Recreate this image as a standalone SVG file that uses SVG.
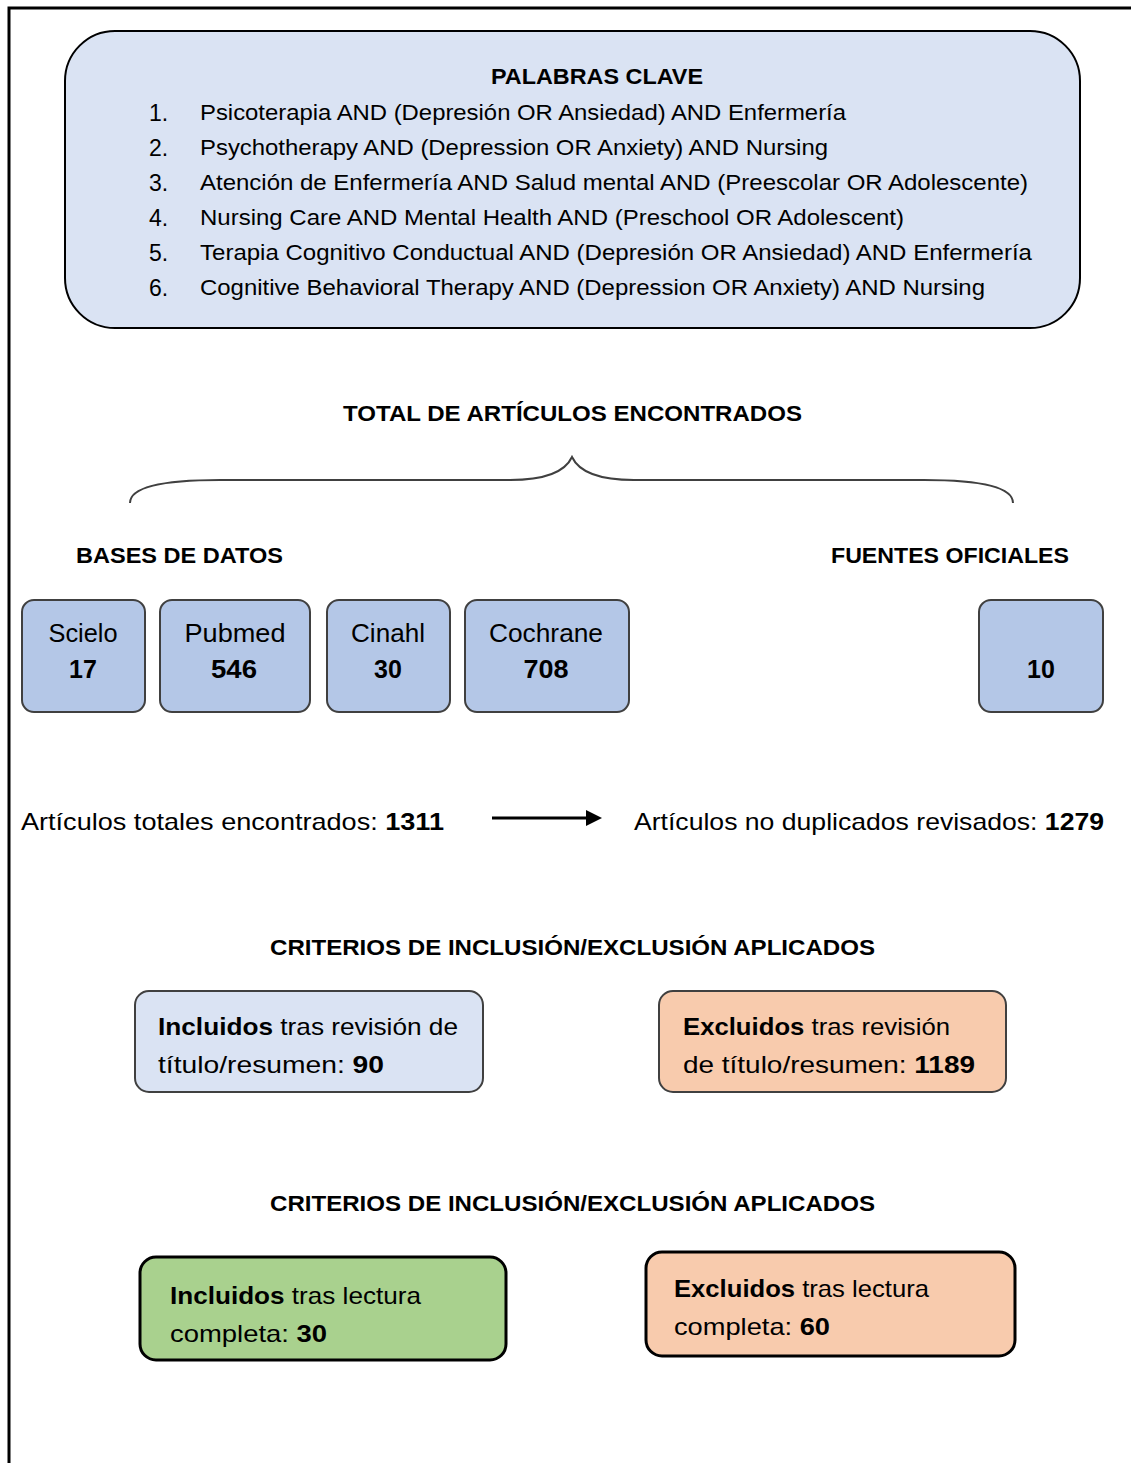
<svg xmlns="http://www.w3.org/2000/svg" width="1131" height="1463" viewBox="0 0 1131 1463">
<style>
text{font-family:"Liberation Sans",Arial,sans-serif;fill:#000}
.h{font-weight:bold;font-size:22px}
.li{font-size:22px}
.n{font-size:23px}
.b{font-weight:bold}
.db{fill:#b4c7e7;stroke:#404040;stroke-width:2}
.bt{font-size:25px;text-anchor:middle}
.tx{font-size:24px}
</style>
<rect width="1131" height="1463" fill="#fff"/>
<path d="M9,1463 V8 H1131" fill="none" stroke="#000" stroke-width="3"/>
<g id="palabras-clave">
<rect x="65" y="31" width="1015" height="297" rx="50" fill="#dae3f3" stroke="#000" stroke-width="2"/>
<text class="h" x="597" y="84" text-anchor="middle" textLength="212" lengthAdjust="spacingAndGlyphs">PALABRAS CLAVE</text>
<g class="li">
<text class="n" x="149" y="121">1.</text><text x="200" y="120" textLength="646" lengthAdjust="spacingAndGlyphs">Psicoterapia AND (Depresión OR Ansiedad) AND Enfermería</text>
<text class="n" x="149" y="156">2.</text><text x="200" y="155" textLength="628" lengthAdjust="spacingAndGlyphs">Psychotherapy AND (Depression OR Anxiety) AND Nursing</text>
<text class="n" x="149" y="191">3.</text><text x="200" y="190" textLength="828" lengthAdjust="spacingAndGlyphs">Atención de Enfermería AND Salud mental AND (Preescolar OR Adolescente)</text>
<text class="n" x="149" y="226">4.</text><text x="200" y="225" textLength="704" lengthAdjust="spacingAndGlyphs">Nursing Care AND Mental Health AND (Preschool OR Adolescent)</text>
<text class="n" x="149" y="261">5.</text><text x="200" y="260" textLength="832" lengthAdjust="spacingAndGlyphs">Terapia Cognitivo Conductual AND (Depresión OR Ansiedad) AND Enfermería</text>
<text class="n" x="149" y="296">6.</text><text x="200" y="295" textLength="785" lengthAdjust="spacingAndGlyphs">Cognitive Behavioral Therapy AND (Depression OR Anxiety) AND Nursing</text>
</g>
</g>
<g id="total-articulos">
<text class="h" x="343" y="421" textLength="459" lengthAdjust="spacingAndGlyphs">TOTAL DE ARTÍCULOS ENCONTRADOS</text>
</g>
<g id="brace">
<path d="M130,503 C130,488 160,480 220,480 L510,480 C545,480 565,472 572,457 C579,472 599,480 634,480 L924,480 C984,480 1013,488 1013,503" fill="none" stroke="#404040" stroke-width="2"/>
</g>
<g id="bases-de-datos"><text class="h" x="76" y="563" textLength="207" lengthAdjust="spacingAndGlyphs">BASES DE DATOS</text></g>
<g id="fuentes-oficiales"><text class="h" x="831" y="563" textLength="238" lengthAdjust="spacingAndGlyphs">FUENTES OFICIALES</text></g>
<g id="scielo"><rect class="db" x="22" y="600" width="123" height="112" rx="12"/><text class="bt" x="83" y="642" textLength="69" lengthAdjust="spacingAndGlyphs">Scielo</text><text class="bt b" x="83" y="678">17</text></g>
<g id="pubmed"><rect class="db" x="160" y="600" width="150" height="112" rx="12"/><text class="bt" x="235" y="642" textLength="101" lengthAdjust="spacingAndGlyphs">Pubmed</text><text class="bt b" x="234" y="678" textLength="46" lengthAdjust="spacingAndGlyphs">546</text></g>
<g id="cinahl"><rect class="db" x="327" y="600" width="123" height="112" rx="12"/><text class="bt" x="388" y="642" textLength="74" lengthAdjust="spacingAndGlyphs">Cinahl</text><text class="bt b" x="388" y="678">30</text></g>
<g id="cochrane"><rect class="db" x="465" y="600" width="164" height="112" rx="12"/><text class="bt" x="546" y="642" textLength="114" lengthAdjust="spacingAndGlyphs">Cochrane</text><text class="bt b" x="546" y="678" textLength="45" lengthAdjust="spacingAndGlyphs">708</text></g>
<g id="fuentes"><rect class="db" x="979" y="600" width="124" height="112" rx="12"/><text class="bt b" x="1041" y="678">10</text></g>
<g id="totales"><text class="tx" x="21" y="830" textLength="423" lengthAdjust="spacingAndGlyphs">Artículos totales encontrados: <tspan class="b">1311</tspan></text></g>
<g id="no-duplicados"><text class="tx" x="634" y="830" textLength="470" lengthAdjust="spacingAndGlyphs">Artículos no duplicados revisados: <tspan class="b">1279</tspan></text></g>
<g id="connectors">
<line x1="492" y1="818" x2="588" y2="818" stroke="#000" stroke-width="3"/>
<polygon points="586,810 602,818 586,826" fill="#000"/>
</g>
<g id="criterios-1"><text class="h" x="270" y="955" textLength="605" lengthAdjust="spacingAndGlyphs">CRITERIOS DE INCLUSIÓN/EXCLUSIÓN APLICADOS</text></g>
<g id="incluidos-1">
<rect x="135" y="991" width="348" height="101" rx="14" fill="#dae3f3" stroke="#404040" stroke-width="2"/>
<text class="tx" x="158" y="1035" textLength="300" lengthAdjust="spacingAndGlyphs"><tspan class="b">Incluidos</tspan> tras revisión de</text>
<text class="tx" x="158" y="1073" textLength="226" lengthAdjust="spacingAndGlyphs">título/resumen: <tspan class="b">90</tspan></text>
</g>
<g id="excluidos-1">
<rect x="659" y="991" width="347" height="101" rx="14" fill="#f8cbad" stroke="#404040" stroke-width="2"/>
<text class="tx" x="683" y="1035" textLength="267" lengthAdjust="spacingAndGlyphs"><tspan class="b">Excluidos</tspan> tras revisión</text>
<text class="tx" x="683" y="1073" textLength="292" lengthAdjust="spacingAndGlyphs">de título/resumen: <tspan class="b">1189</tspan></text>
</g>
<g id="criterios-2"><text class="h" x="270" y="1211" textLength="605" lengthAdjust="spacingAndGlyphs">CRITERIOS DE INCLUSIÓN/EXCLUSIÓN APLICADOS</text></g>
<g id="incluidos-2">
<rect x="140" y="1257" width="366" height="103" rx="16" fill="#a9d18e" stroke="#000" stroke-width="3"/>
<text class="tx" x="170" y="1304" textLength="251" lengthAdjust="spacingAndGlyphs"><tspan class="b">Incluidos</tspan> tras lectura</text>
<text class="tx" x="170" y="1342" textLength="157" lengthAdjust="spacingAndGlyphs">completa: <tspan class="b">30</tspan></text>
</g>
<g id="excluidos-2">
<rect x="646" y="1252" width="369" height="104" rx="16" fill="#f8cbad" stroke="#000" stroke-width="3"/>
<text class="tx" x="674" y="1297" textLength="255" lengthAdjust="spacingAndGlyphs"><tspan class="b">Excluidos</tspan> tras lectura</text>
<text class="tx" x="674" y="1335" textLength="156" lengthAdjust="spacingAndGlyphs">completa: <tspan class="b">60</tspan></text>
</g>
</svg>
